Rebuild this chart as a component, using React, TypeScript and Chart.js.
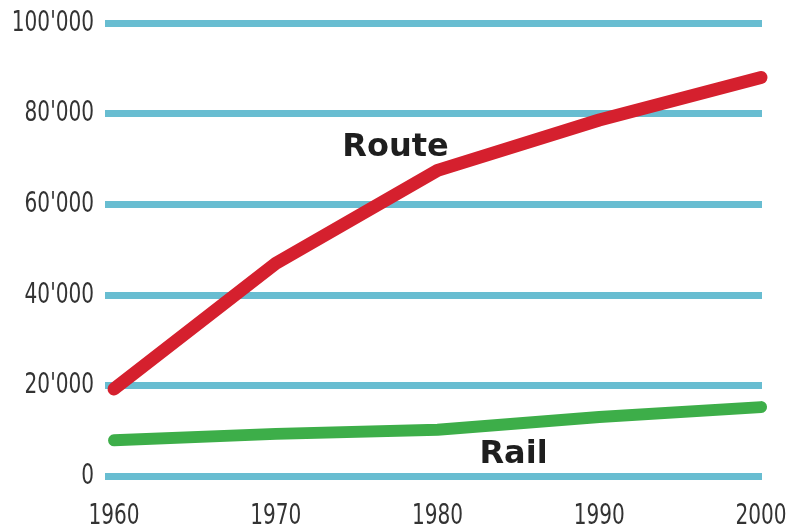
import React, { useEffect, useRef } from "react";
import { Chart, registerables } from "chart.js";

Chart.register(...registerables);

const years = [1960, 1970, 1980, 1990, 2000];
const routeValues = [19300, 47000, 67500, 78600, 88000];
const railValues = [8000, 9400, 10300, 13100, 15300];
const yTicks = [0, 20000, 40000, 60000, 80000, 100000];

const formatThousands = (v: number) =>
  v === 0 ? "0" : `${Math.floor(v / 1000)}'${String(v % 1000).padStart(3, "0")}`;

const tickFont = "29px 'Liberation Sans Narrow', 'DejaVu Sans Condensed', sans-serif";
const squeeze = 0.77;

// Condensed tick labels, placed through the chart's own scales
const condensedTicks = {
  id: "condensedTicks",
  afterDraw(chart: any) {
    const { ctx, scales } = chart;
    const x = scales.x;
    const y = scales.y;
    ctx.save();
    ctx.fillStyle = "#333333";
    ctx.font = tickFont;
    ctx.textBaseline = "middle";
    const drawText = (text: string, px: number, py: number, align: "right" | "center") => {
      const w = ctx.measureText(text).width * squeeze;
      const left = align === "right" ? px - w : px - w / 2;
      ctx.save();
      ctx.translate(left, py);
      ctx.scale(squeeze, 1);
      ctx.textAlign = "left";
      ctx.fillText(text, 0, 0);
      ctx.restore();
    };
    yTicks.forEach((v) => {
      drawText(formatThousands(v), y.right - 11, y.getPixelForValue(v), "right");
    });
    years.forEach((yr) => {
      drawText(String(yr), x.getPixelForValue(yr), x.top + 40, "center");
    });
    ctx.restore();
  },
};

// Series names written next to their lines
const seriesLabels = {
  id: "seriesLabels",
  afterDatasetsDraw(chart: any) {
    const { ctx, scales } = chart;
    const x = scales.x;
    const y = scales.y;
    ctx.save();
    ctx.fillStyle = "#1e1e1e";
    ctx.font = "bold 32px 'DejaVu Sans', sans-serif";
    ctx.textAlign = "center";
    ctx.textBaseline = "middle";
    ctx.fillText("Route", x.getPixelForValue(1977.4), y.getPixelForValue(72500));
    ctx.fillText("Rail", x.getPixelForValue(1984.7), y.getPixelForValue(4700));
    ctx.restore();
  },
};

export default function App() {
  const canvasRef = useRef<HTMLCanvasElement | null>(null);

  useEffect(() => {
    if (!canvasRef.current) return;
    const chart = new Chart(canvasRef.current, {
      type: "line",
      data: {
        datasets: [
          {
            label: "Route",
            data: years.map((yr, i) => ({ x: yr, y: routeValues[i] })),
            borderColor: "#d5202e",
            borderWidth: 13,
            borderCapStyle: "round",
            borderJoinStyle: "round",
            pointRadius: 0,
            tension: 0,
            clip: false,
          },
          {
            label: "Rail",
            data: years.map((yr, i) => ({ x: yr, y: railValues[i] })),
            borderColor: "#3dae49",
            borderWidth: 12,
            borderCapStyle: "round",
            borderJoinStyle: "round",
            pointRadius: 0,
            tension: 0,
            clip: false,
          },
        ],
      },
      options: {
        responsive: false,
        animation: false,
        layout: { padding: { top: 23, right: 26, bottom: 0, left: 0 } },
        plugins: {
          legend: { display: false },
          tooltip: { enabled: false },
        },
        scales: {
          x: {
            type: "linear",
            min: 1959.44,
            max: 2000.06,
            afterBuildTicks: (scale: any) => {
              scale.ticks = years.map((v) => ({ value: v }));
            },
            afterFit: (scale: any) => {
              scale.height = 53.5;
              scale.paddingLeft = 0;
              scale.paddingRight = 0;
            },
            grid: { display: false, drawTicks: false },
            border: { display: false },
            ticks: { display: false },
          },
          y: {
            min: 0,
            max: 100000,
            afterBuildTicks: (scale: any) => {
              scale.ticks = yTicks.map((v) => ({ value: v }));
            },
            afterFit: (scale: any) => {
              scale.width = 105;
              scale.paddingTop = 0;
              scale.paddingBottom = 0;
            },
            grid: { color: "#68bdd1", lineWidth: 7, drawTicks: false },
            border: { display: false },
            ticks: { display: false },
          },
        },
      },
      plugins: [seriesLabels, condensedTicks],
    } as any);
    return () => chart.destroy();
  }, []);

  return (
    <div style={{ position: "absolute", left: 0, top: 0, width: 788, height: 530, background: "#fff" }}>
      <canvas ref={canvasRef} width={788} height={530} />
    </div>
  );
}
